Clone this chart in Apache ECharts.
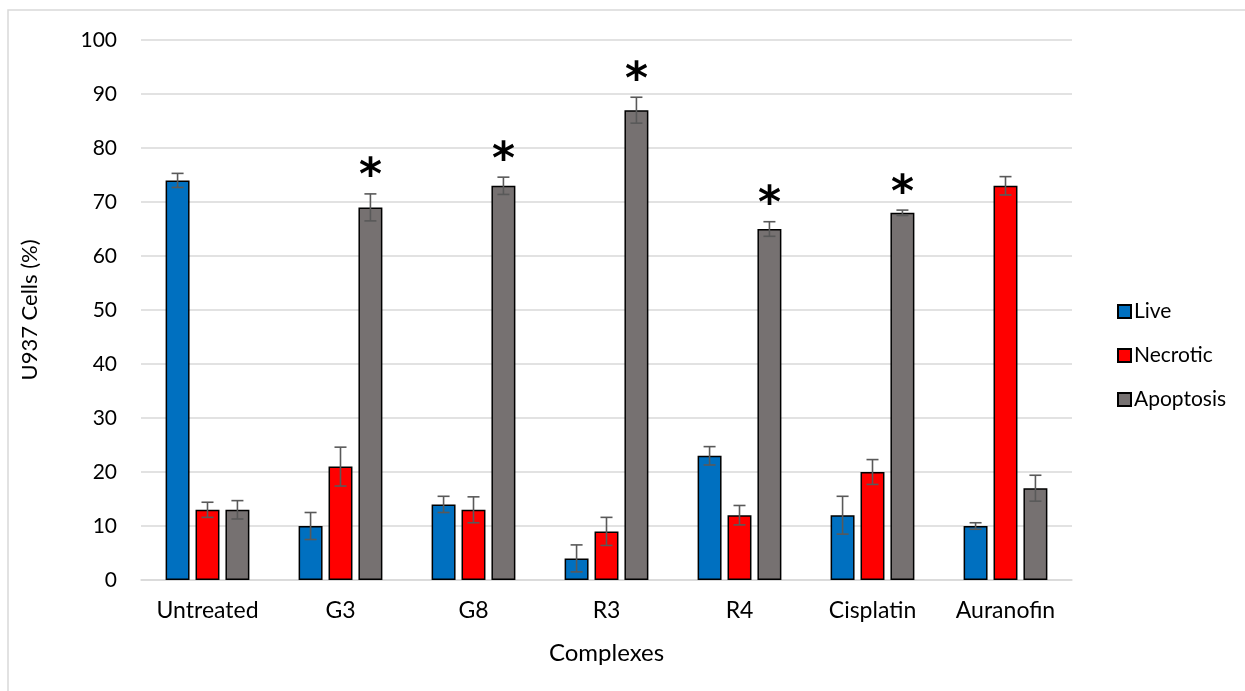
<!DOCTYPE html>
<html>
<head>
<meta charset="utf-8">
<script src="https://cdn.jsdelivr.net/npm/echarts@6/dist/echarts.min.js"></script>
<style>
  html, body { margin: 0; padding: 0; background: #fff; }
  #chart { width: 1245px; height: 691px; }
</style>
</head>
<body>
<div id="chart"></div>
<script>
// Cell fate of U937 cells after treatment (mean ± error, %)
const categories = ['Untreated', 'G3', 'G8', 'R3', 'R4', 'Cisplatin', 'Auranofin'];
const seriesNames = ['Live', 'Necrotic', 'Apoptosis'];

const liveValues      = [74, 10, 14, 4, 23, 12, 10];
const liveErrors      = [1.3, 2.5, 1.5, 2.5, 1.7, 3.5, 0.6];
const necroticValues  = [13, 21, 13, 9, 12, 20, 73];
const necroticErrors  = [1.4, 3.6, 2.4, 2.6, 1.8, 2.3, 1.7];
const apoptosisValues = [13, 69, 73, 87, 65, 68, 17];
const apoptosisErrors = [1.7, 2.5, 1.6, 2.4, 1.35, 0.5, 2.4];
// significance marks drawn over the apoptosis bars
const apoptosisSignificant = [false, true, true, true, true, true, false];

const yTicks = [0, 10, 20, 30, 40, 50, 60, 70, 80, 90, 100];

const colors = ['#0070C0', '#FF0000', '#767171'];
const FONT = 'Lato, "Open Sans", sans-serif';

const allValues = [liveValues, necroticValues, apoptosisValues];
const allErrors = [liveErrors, necroticErrors, apoptosisErrors];

// [categoryIndex, seriesIndex, mean, error, marked]
const errorData = [];
allValues.forEach((vals, si) => {
  vals.forEach((v, ci) => {
    errorData.push([ci, si, v, allErrors[si][ci], si === 2 && apoptosisSignificant[ci] ? 1 : 0]);
  });
});

const BAR_RATIO = 0.18;      // bar width as share of the category band
const GAP_RATIO = 0.25;      // gap between bars as share of bar width

const chart = echarts.init(document.getElementById('chart'));

const barSeries = seriesNames.map((name, i) => ({
  name: name,
  type: 'bar',
  data: allValues[i],
  barWidth: (BAR_RATIO * 100) + '%',
  barGap: (GAP_RATIO * 100) + '%',
  itemStyle: { color: colors[i], borderColor: '#000', borderWidth: 1.5 },
  emphasis: { disabled: true },
  z: 2
}));

const errorSeries = {
  type: 'custom',
  data: errorData,
  encode: { x: 0, y: 2 },
  z: 5,
  silent: true,
  renderItem: function (params, api) {
    const ci = api.value(0);
    const si = api.value(1);
    const v = api.value(2);
    const e = api.value(3);
    const marked = api.value(4);
    const band = api.size([1, 0])[0];
    const offset = (si - 1) * band * BAR_RATIO * (1 + GAP_RATIO);
    const hi = api.coord([ci, v + e]);
    const lo = api.coord([ci, v - e]);
    const x = hi[0] + offset;
    const cap = 6;
    const style = { stroke: '#595959', lineWidth: 1.6 };
    const children = [
      { type: 'line', shape: { x1: x, y1: hi[1], x2: x, y2: lo[1] }, style: style },
      { type: 'line', shape: { x1: x - cap, y1: hi[1], x2: x + cap, y2: hi[1] }, style: style },
      { type: 'line', shape: { x1: x - cap, y1: lo[1], x2: x + cap, y2: lo[1] }, style: style }
    ];
    if (marked) {
      children.push({
        type: 'text',
        style: {
          text: '*', x: x, y: hi[1] + 6,
          fill: '#000', font: 'bold 44px "DejaVu Sans", sans-serif',
          align: 'center', verticalAlign: 'bottom'
        }
      });
    }
    return { type: 'group', children: children };
  }
};

chart.setOption({
  animation: false,
  backgroundColor: '#fff',
  graphic: [{
    type: 'rect',
    shape: { x: 8, y: 10, width: 1300, height: 760 },
    style: { fill: 'none', stroke: '#d9d9d9', lineWidth: 1.5 },
    silent: true
  }],
  grid: { left: 141, right: 173, top: 40, bottom: 111 },
  legend: {
    orient: 'vertical',
    left: 1112,
    top: 296,
    itemWidth: 13,
    itemHeight: 13,
    itemGap: 23,
    icon: 'rect',
    data: seriesNames,
    textStyle: { fontFamily: FONT, fontSize: 21, color: '#000', padding: [0, 0, 0, -2] },
    selectedMode: false
  },
  xAxis: {
    type: 'category',
    data: categories,
    axisLine: { show: true, lineStyle: { color: '#d9d9d9', width: 1.5 } },
    axisTick: { show: false },
    axisLabel: { fontFamily: FONT, fontSize: 23, color: '#000', margin: 19 },
    name: 'Complexes',
    nameLocation: 'middle',
    nameGap: 61,
    nameTextStyle: { fontFamily: FONT, fontSize: 24, color: '#000' }
  },
  yAxis: {
    type: 'value',
    min: yTicks[0],
    max: yTicks[yTicks.length - 1],
    interval: yTicks[1] - yTicks[0],
    axisLine: { show: false },
    axisTick: { show: false },
    splitLine: { lineStyle: { color: '#d9d9d9', width: 1.5 } },
    axisLabel: { fontFamily: FONT, fontSize: 21, color: '#000', margin: 24 },
    name: 'U937 Cells (%)',
    nameLocation: 'middle',
    nameGap: 100,
    nameTextStyle: { fontFamily: FONT, fontSize: 22, color: '#000' }
  },
  series: barSeries.concat([errorSeries])
});
</script>
</body>
</html>
